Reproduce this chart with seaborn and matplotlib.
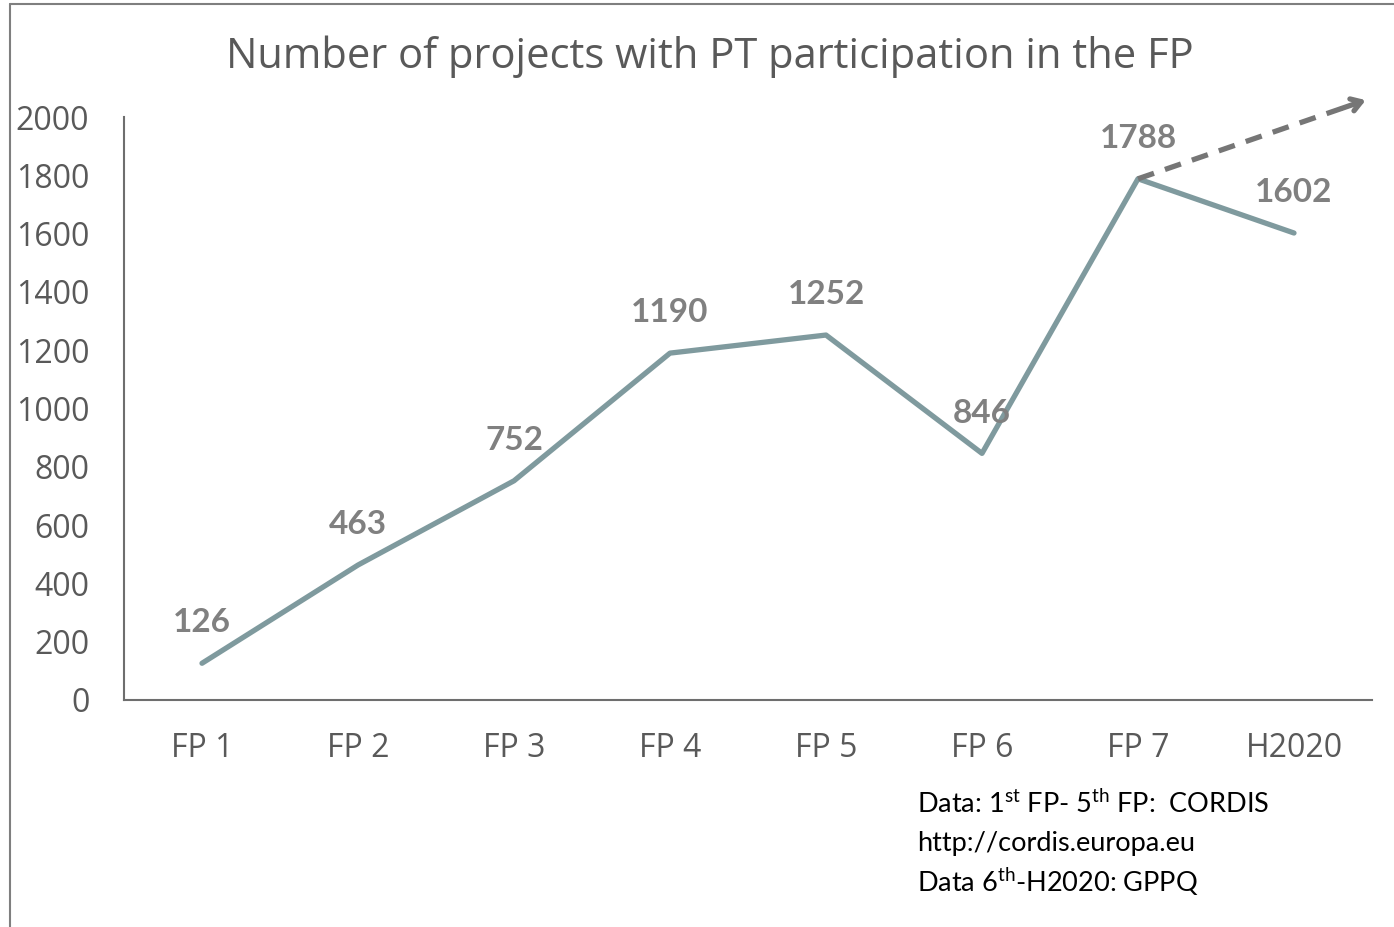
import matplotlib
matplotlib.use("Agg")
import matplotlib.pyplot as plt
import seaborn as sns
import pandas as pd
from matplotlib.lines import Line2D

categories = ["FP 1", "FP 2", "FP 3", "FP 4", "FP 5", "FP 6", "FP 7", "H2020"]
projects = [126, 463, 752, 1190, 1252, 846, 1788, 1602]
yticks = [0, 200, 400, 600, 800, 1000, 1200, 1400, 1600, 1800, 2000]

sns.set_style("white")
plt.rcParams['font.family'] = ['Open Sans', 'DejaVu Sans']
plt.rcParams['mathtext.fontset'] = 'custom'
plt.rcParams['mathtext.rm'] = 'Lato'

df = pd.DataFrame({"cat": categories, "x": range(len(categories)), "v": projects})

fig = plt.figure(figsize=(13.94, 9.27), dpi=100)
ax = fig.add_axes([124/1394, 1-700/927, (1372-124)/1394, (700-117)/927])

sns.lineplot(data=df, x="x", y="v", ax=ax, color="#7f9a9e", linewidth=3.8,
             solid_capstyle="round", solid_joinstyle="round")

for i, v in enumerate(projects):
    ax.annotate(str(v), (i, v), xytext=(0, 29), textcoords="offset points",
                ha="center", va="center", fontsize=24, fontweight="bold",
                color="#808080", family=["Lato", "DejaVu Sans"])

ax.set_xlim(-0.5, 7.5)
ax.set_ylim(0, 2000)
ax.set_xticks(range(len(categories)))
ax.set_xticklabels(categories)
ax.set_yticks(yticks)
ax.set_xlabel("")
ax.set_ylabel("")
ax.tick_params(axis="both", length=0, labelsize=23, colors="#595959")
ax.tick_params(axis="y", pad=25)
ax.tick_params(axis="x", pad=23)
for s in ["top", "right"]:
    ax.spines[s].set_visible(False)
for s in ["left", "bottom"]:
    ax.spines[s].set_color("#6e6e6e")
    ax.spines[s].set_linewidth(1.5)

# dashed trend arrow from FP 7
x0, y0 = 6, projects[6]
x1, y1 = 7.46, 2058
ax.plot([x0, x0 + (x1 - x0) * 0.93], [y0, y0 + (y1 - y0) * 0.93], color="#767676",
        linewidth=3.8, linestyle=(0, (3.2, 2.2)), clip_on=False, zorder=3)
ax.annotate("", xy=(x1, y1), xytext=(x0 + (x1 - x0) * 0.9, y0 + (y1 - y0) * 0.9),
            arrowprops=dict(arrowstyle="->,head_length=0.7,head_width=0.45", color="#767676",
                            lw=3.8, shrinkA=0, shrinkB=0),
            annotation_clip=False)

fig.text(710/1394, 1-57/927, "Number of projects with PT participation in the FP",
         ha="center", va="center", fontsize=30, color="#595959")

foot = [r"Data: 1$^{\mathrm{st}}$ FP- 5$^{\mathrm{th}}$ FP:  CORDIS",
        "http://cordis.europa.eu",
        r"Data 6$^{\mathrm{th}}$-H2020: GPPQ"]
for k, t in enumerate(foot):
    fig.text(917/1394, 1-(804 + 39*k)/927, t, ha="left", va="center",
             fontsize=19.5, color="#000000", family=["Lato", "DejaVu Sans"])

# frame lines
fig.add_artist(Line2D([10/1394, 10/1394], [0, 1-4/927], color="#7f7f7f", lw=1.5,
                      transform=fig.transFigure))
fig.add_artist(Line2D([10/1394, 1], [1-4/927, 1-4/927], color="#7f7f7f", lw=1.5,
                      transform=fig.transFigure))

fig.savefig("out.png", dpi=100)
